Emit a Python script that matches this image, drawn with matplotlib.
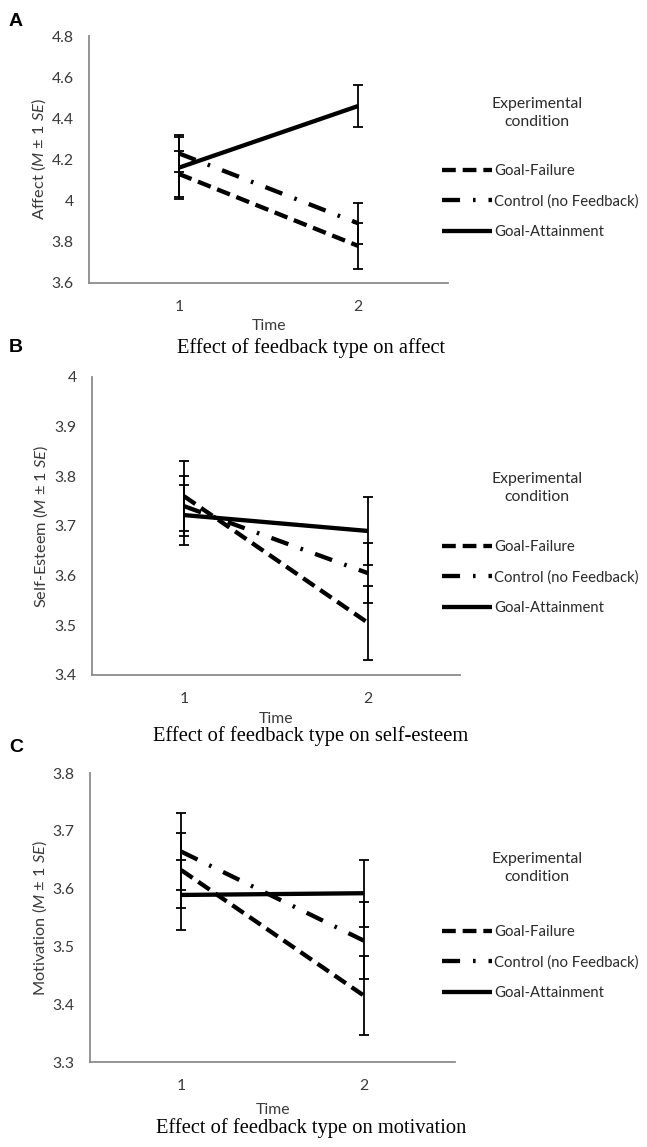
import numpy as np
import matplotlib.pyplot as plt

plt.rcParams['font.family'] = ['Lato', 'DejaVu Sans']
plt.rcParams['mathtext.fontset'] = 'custom'
plt.rcParams['mathtext.rm'] = 'Lato'
plt.rcParams['mathtext.it'] = 'Lato:italic'

# time points
time = [1, 2]
conditions = ['Goal-Failure', 'Control (no Feedback)', 'Goal-Attainment']

# Panel A - affect
affect_failure = [4.13, 3.78]
affect_control = [4.23, 3.89]
affect_attain = [4.16, 4.46]
affect_failure_se = [0.11, 0.11]
affect_control_se = [0.09, 0.10]
affect_attain_se = [0.15, 0.10]

# Panel B - self-esteem
esteem_failure = [3.76, 3.505]
esteem_control = [3.74, 3.605]
esteem_attain = [3.722, 3.69]
esteem_failure_se = [0.07, 0.075]
esteem_control_se = [0.06, 0.06]
esteem_attain_se = [0.06, 0.068]

# Panel C - motivation
motiv_failure = [3.632, 3.415]
motiv_control = [3.664, 3.51]
motiv_attain = [3.589, 3.592]
motiv_failure_se = [0.065, 0.068]
motiv_control_se = [0.067, 0.067]
motiv_attain_se = [0.06, 0.058]

W, H = 647, 1147
fig = plt.figure(figsize=(W / 100, H / 100), dpi=100)

styles = [
    dict(linestyle=(0, (3.2, 1.6)), lw=3.1),
    dict(linestyle=(0, (4.2, 3.0, 0.6, 3.0)), lw=3.1),
    dict(linestyle='-', lw=3.1),
]

FS = 11.3
LFS = 10.7
panels = [
    dict(box=(89, 36, 448, 283), ylim=(3.6, 4.8), yticks=np.arange(3.6, 4.81, 0.2),
         fmt=lambda v: '4' if abs(v - 4) < 1e-9 else f'{v:.1f}',
         ylabel=r'Affect ($\mathit{M}$ ± 1 $\mathit{SE}$)',
         caption='Effect of feedback type on affect', letter='A', letter_y=22,
         title_y=113, leg_y=158, time_y=326, cap_y=348,
         data=[(affect_failure, affect_failure_se), (affect_control, affect_control_se),
               (affect_attain, affect_attain_se)]),
    dict(box=(92, 377, 460, 675), ylim=(3.4, 4.0), yticks=np.arange(3.4, 4.01, 0.1),
         fmt=lambda v: '4' if abs(v - 4) < 1e-9 else f'{v:.1f}',
         ylabel=r'Self-Esteem ($\mathit{M}$ ± 1 $\mathit{SE}$)',
         caption='Effect of feedback type on self-esteem', letter='B', letter_y=348,
         title_y=488, leg_y=534, time_y=719, cap_y=736,
         data=[(esteem_failure, esteem_failure_se), (esteem_control, esteem_control_se),
               (esteem_attain, esteem_attain_se)]),
    dict(box=(90, 773, 455, 1062), ylim=(3.3, 3.8), yticks=np.arange(3.3, 3.81, 0.1),
         fmt=lambda v: f'{v:.1f}',
         ylabel=r'Motivation ($\mathit{M}$ ± 1 $\mathit{SE}$)',
         caption='Effect of feedback type on motivation', letter='C', letter_y=748,
         title_y=868, leg_y=919, time_y=1110, cap_y=1128,
         data=[(motiv_failure, motiv_failure_se), (motiv_control, motiv_control_se),
               (motiv_attain, motiv_attain_se)]),
]

for p in panels:
    l, t, r, b = p['box']
    ax = fig.add_axes([l / W, 1 - b / H, (r - l) / W, (b - t) / H])
    handles = []
    for (vals, se), st in zip(p['data'], styles):
        ax.errorbar(time, vals, yerr=se, fmt='none', ecolor='black', elinewidth=1.3,
                    capsize=3.5, capthick=1.3, zorder=2)
        ln, = ax.plot(time, vals, color='black', solid_capstyle='butt', zorder=3, **st)
        handles.append(ln)
    ax.set_xlim(0.5, 2.5)
    ax.set_ylim(*p['ylim'])
    ax.set_xticks(time)
    ax.set_xticklabels(['1', '2'])
    ax.set_yticks(p['yticks'])
    ax.set_yticklabels([p['fmt'](v) for v in p['yticks']])
    ax.tick_params(length=0, labelsize=FS, colors='#3a3a3a', pad=11)
    ax.tick_params(axis='x', pad=12)
    for s in ['top', 'right']:
        ax.spines[s].set_visible(False)
    for s in ['left', 'bottom']:
        ax.spines[s].set_color('#8c8c8c')
        ax.spines[s].set_linewidth(1.3)
    ax.set_ylabel(p['ylabel'], fontsize=11.8, color='#3a3a3a', labelpad=3)

    fig.text(9 / W, 1 - p['letter_y'] / H, p['letter'], fontsize=14, fontweight='bold',
             family='Liberation Sans', va='center', ha='left')
    cx = (l + r) / 2
    fig.text(cx / W, 1 - p['time_y'] / H, 'Time', fontsize=FS, color='#3a3a3a',
             ha='center', va='center')
    fig.text(311 / W, 1 - p['cap_y'] / H, p['caption'], fontsize=14.8,
             family='Liberation Serif', ha='center', va='center')
    fig.text(537 / W, 1 - p['title_y'] / H, 'Experimental\ncondition', fontsize=FS,
             color='#2a2a2a', ha='center', va='center', linespacing=1.4)
    leg = ax.legend(handles, conditions, loc='upper left',
                    bbox_to_anchor=(436 / W, 1 - p['leg_y'] / H),
                    bbox_transform=fig.transFigure, frameon=False, fontsize=LFS,
                    handlelength=3.4, handletextpad=0.12, labelspacing=1.1,
                    borderaxespad=0)
    for txt in leg.get_texts():
        txt.set_color('#2a2a2a')

fig.savefig('out.png', dpi=100, facecolor='white')
